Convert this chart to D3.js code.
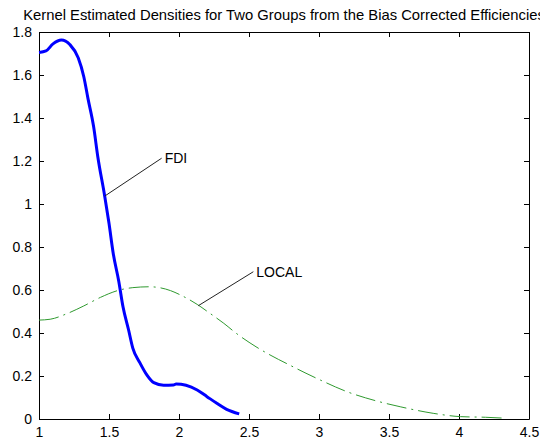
<!DOCTYPE html>
<html>
<head>
<meta charset="utf-8">
<script src="https://cdn.jsdelivr.net/npm/d3@7"></script>
<style>
  body { margin: 0; background: #fff; }
  svg text { font-family: "Liberation Sans", Arial, sans-serif; fill: #000; }
</style>
</head>
<body>
<svg id="chart" width="540" height="440"></svg>
<script>
var title = 'Kernel Estimated Densities for Two Groups from the Bias Corrected Efficiencies';

// FDI group density
var fdiX = [1.00, 1.05, 1.10, 1.16, 1.22, 1.28, 1.32, 1.35, 1.39, 1.42, 1.47, 1.50, 1.53, 1.57, 1.60,
            1.64, 1.67, 1.72, 1.77, 1.82, 1.89, 1.96, 1.98, 2.05, 2.13, 2.20, 2.27, 2.34, 2.43];
var fdiY = [1.705, 1.712, 1.745, 1.763, 1.742, 1.680, 1.592, 1.490, 1.360, 1.220, 1.034, 0.910, 0.771, 0.640, 0.522,
            0.414, 0.330, 0.262, 0.205, 0.169, 0.157, 0.158, 0.163, 0.157, 0.135, 0.104, 0.073, 0.045, 0.024];

// LOCAL group density
var localX = [1.00, 1.08, 1.20, 1.32, 1.44, 1.56, 1.67, 1.79, 1.85, 1.94, 2.01, 2.13, 2.22, 2.32,
              2.41, 2.55, 2.65, 2.79, 2.90, 3.01, 3.20, 3.41, 3.58, 3.82, 4.01, 4.19, 4.32];
var localY = [0.460, 0.464, 0.490, 0.526, 0.566, 0.597, 0.611, 0.615, 0.612, 0.597, 0.577, 0.533, 0.492, 0.445,
              0.398, 0.336, 0.298, 0.251, 0.215, 0.181, 0.127, 0.084, 0.057, 0.026, 0.011, 0.008, 0.004];

var xTicks = [1, 1.5, 2, 2.5, 3, 3.5, 4, 4.5];
var yTicks = [0, 0.2, 0.4, 0.6, 0.8, 1, 1.2, 1.4, 1.6, 1.8];

// text arrows: label, point on the curve, end of the pointer line
var labels = ['FDI', 'LOCAL'];
var arrowFrom = [[1.47, 1.037], [2.138, 0.527]];
var arrowTo = [[1.876, 1.213], [2.531, 0.685]];

var svg = d3.select('#chart');
var mLeft = 39, mRight = 529, mTop = 32, mBottom = 419;

var x = d3.scaleLinear().domain([1, 4.5]).range([mLeft, mRight]);
var y = d3.scaleLinear().domain([0, 1.8]).range([mBottom, mTop]);
var fmt = d3.format('~g');

svg.append('text')
  .attr('x', (mLeft + mRight) / 2)
  .attr('y', 19.5)
  .attr('text-anchor', 'middle')
  .style('font-size', '14.8px')
  .text(title);

function styleAxis(g){
  g.selectAll('path, line').attr('stroke', '#000').attr('stroke-width', 1);
  g.selectAll('text').style('font-size', '14px').attr('fill', '#000');
}

svg.append('g')
  .attr('transform', 'translate(0,' + mBottom + ')')
  .call(d3.axisBottom(x).tickValues(xTicks).tickFormat(fmt).tickSizeInner(-5).tickSizeOuter(0).tickPadding(8))
  .call(styleAxis);
svg.append('g')
  .attr('transform', 'translate(0,' + mTop + ')')
  .call(d3.axisTop(x).tickValues(xTicks).tickFormat('').tickSizeInner(-5).tickSizeOuter(0))
  .call(styleAxis);
svg.append('g')
  .attr('transform', 'translate(' + mLeft + ',0)')
  .call(d3.axisLeft(y).tickValues(yTicks).tickFormat(fmt).tickSizeInner(-5).tickSizeOuter(0).tickPadding(7))
  .call(styleAxis);
svg.append('g')
  .attr('transform', 'translate(' + mRight + ',0)')
  .call(d3.axisRight(y).tickValues(yTicks).tickFormat('').tickSizeInner(-5).tickSizeOuter(0))
  .call(styleAxis);

var line = d3.line()
  .x(d => x(d[0]))
  .y(d => y(d[1]))
  .curve(d3.curveMonotoneX);

svg.append('path')
  .datum(localX.map((v, i) => [v, localY[i]]))
  .attr('d', line)
  .attr('fill', 'none')
  .attr('stroke', '#2f9a2f')
  .attr('stroke-width', 1)
  .attr('stroke-dasharray', '20,5,2,5');

svg.append('path')
  .datum(fdiX.map((v, i) => [v, fdiY[i]]))
  .attr('d', line)
  .attr('fill', 'none')
  .attr('stroke', '#0000ff')
  .attr('stroke-width', 3)
  .attr('stroke-linejoin', 'round');

labels.forEach((lab, i) => {
  svg.append('line')
    .attr('x1', x(arrowFrom[i][0])).attr('y1', y(arrowFrom[i][1]))
    .attr('x2', x(arrowTo[i][0])).attr('y2', y(arrowTo[i][1]))
    .attr('stroke', '#222')
    .attr('stroke-width', 1);
  svg.append('text')
    .attr('x', x(arrowTo[i][0]) + 3)
    .attr('y', y(arrowTo[i][1]))
    .attr('dy', '0.35em')
    .style('font-size', '14px')
    .text(lab);
});
</script>
</body>
</html>
